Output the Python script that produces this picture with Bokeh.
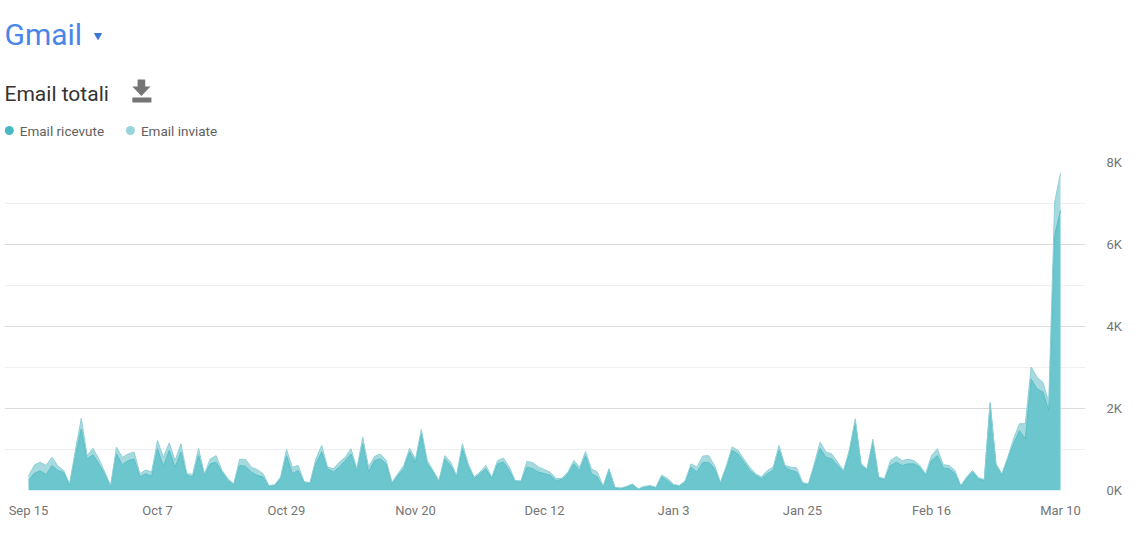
import pandas as pd
from bokeh.plotting import figure
from bokeh.layouts import column
from bokeh.models import Range1d, FixedTicker, ColumnDataSource
from bokeh.core.properties import value
from bokeh.embed import file_html
from bokeh.resources import INLINE

# ---------------- data (daily, Sep 15 -> Mar 10) ----------------
series_names = ["Email ricevute", "Email inviate"]
received = [250, 420, 480, 390, 610, 490, 440, 140, 850, 1500,
            770, 870, 650, 400, 100, 890, 630, 730, 770, 330,
            410, 350, 1020, 590, 980, 570, 940, 370, 330, 850,
            370, 650, 690, 450, 240, 140, 610, 590, 450, 370,
            330, 110, 120, 290, 850, 410, 490, 190, 160, 650,
            940, 530, 450, 570, 730, 890, 490, 1140, 450, 730,
            770, 650, 160, 370, 530, 940, 690, 1380, 650, 450,
            220, 770, 610, 330, 1020, 570, 290, 410, 530, 290,
            650, 690, 490, 220, 200, 570, 530, 450, 410, 370,
            240, 270, 410, 650, 490, 850, 410, 330, 80, 510,
            65, 40, 80, 140, 30, 80, 100, 60, 330, 240,
            120, 100, 200, 570, 450, 680, 690, 530, 170, 520,
            980, 890, 690, 490, 370, 290, 410, 490, 980, 570,
            490, 450, 160, 140, 570, 1030, 810, 770, 610, 450,
            900, 1650, 610, 490, 1180, 290, 270, 610, 690, 610,
            650, 650, 570, 370, 730, 850, 550, 530, 410, 100,
            290, 450, 280, 240, 2110, 610, 370, 750, 1140, 1460,
            1260, 2720, 2480, 2400, 1950, 6220, 6830]
sent = [100, 200, 210, 220, 200, 110, 50, 20, 130, 260,
        80, 160, 120, 50, 20, 170, 180, 160, 170, 80,
        90, 100, 200, 220, 180, 160, 200, 40, 60, 170,
        40, 120, 160, 40, 50, 20, 150, 170, 120, 140,
        80, 10, 20, 40, 150, 160, 120, 30, 30, 120,
        160, 40, 80, 120, 80, 130, 40, 160, 120, 100,
        120, 80, 40, 40, 80, 90, 80, 110, 80, 40,
        20, 80, 80, 40, 120, 80, 40, 40, 80, 40,
        80, 100, 80, 20, 40, 140, 150, 120, 100, 70,
        50, 30, 40, 80, 80, 100, 120, 120, 30, 20,
        15, 20, 20, 20, 10, 20, 20, 20, 50, 50,
        30, 20, 40, 80, 120, 160, 160, 80, 30, 80,
        80, 90, 80, 80, 40, 40, 80, 80, 120, 40,
        80, 100, 40, 20, 80, 150, 130, 120, 80, 40,
        100, 100, 40, 40, 70, 40, 20, 120, 140, 120,
        110, 80, 40, 40, 120, 170, 80, 80, 80, 20,
        40, 40, 30, 30, 40, 40, 40, 60, 120, 170,
        370, 290, 280, 240, 200, 810, 910]
x_tick_labels = ["Sep 15", "Oct 7", "Oct 29", "Nov 20", "Dec 12",
                 "Jan 3", "Jan 25", "Feb 16", "Mar 10"]
tick_step_days = 22
y_ticks = [0, 2000, 4000, 6000, 8000]
y_tick_labels = ["0K", "2K", "4K", "6K", "8K"]
y_minor = [1000, 3000, 5000, 7000]

days = list(range(len(received)))
x_ticks = [i * tick_step_days for i in range(len(x_tick_labels))]
src = ColumnDataSource(dict(day=days, received=received, sent=sent))

FONT = value("Roboto")
C_REC = "#6cc6cd"
C_SENT = "#a6dadf"
W = 1133

# ---------------- header ----------------
h = figure(width=W, height=153, x_range=Range1d(0, W), y_range=Range1d(153, 0),
           output_backend="svg", toolbar_location=None, min_border=0)
h.axis.visible = False
h.grid.visible = False
h.outline_line_color = None

h.text(x=[0], y=[34], text=["Gmail"], text_font=FONT, text_font_size="30px",
       text_color="#4a86e8", text_baseline="middle")
h.scatter(x=[98], y=[35], marker="inverted_triangle", size=7,
          fill_color="#3c78d8", line_color="#3c78d8")
h.text(x=[0], y=[93], text=["Email totali"], text_font=FONT, text_font_size="21px",
       text_color="#333333", text_baseline="middle")
# download icon
h.quad(left=[139.5], right=[147.5], top=[79], bottom=[87], fill_color="#757575", line_color=None)
h.patch(x=[134, 153, 143.5], y=[86, 86, 95.5], fill_color="#757575", line_color=None)
h.quad(left=[134], right=[154], top=[97], bottom=[102], fill_color="#757575", line_color=None)
# legend
h.scatter(x=[5, 132], y=[130, 130], marker="circle", size=9,
          fill_color=["#48b8c2", "#98d4db"], line_color=None)
h.text(x=[16, 143], y=[130, 130], text=series_names, text_font=FONT,
       text_font_size="13.5px", text_color="#616161", text_baseline="middle")

# ---------------- chart ----------------
px_per_day = 129 / 22.0
frame_left = 4
frame_right = 1085
x_start = -(28 - frame_left) / px_per_day
x_end = x_start + (frame_right - frame_left) / px_per_day

p = figure(width=W, height=376, x_range=Range1d(x_start, x_end), y_range=Range1d(0, 8000),
           output_backend="svg", toolbar_location=None, y_axis_location="right",
           min_border_left=frame_left, min_border_right=W - frame_right,
           min_border_top=9, min_border_bottom=39)
p.outline_line_color = None

p.varea_stack(["received", "sent"], x="day", source=src, color=[C_REC, C_SENT])
p.vline_stack(["received", "sent"], x="day", source=src,
              color=["#55bcc5", "#8fd0d7"], line_width=1)

yt = FixedTicker(ticks=y_ticks, minor_ticks=y_minor)
p.yaxis.ticker = yt
p.yaxis.major_label_overrides = dict(zip(y_ticks, y_tick_labels))
p.ygrid.ticker = yt
p.ygrid.grid_line_color = "#dcdcdc"
p.ygrid.minor_grid_line_color = "#efefef"
p.xgrid.grid_line_color = None

p.xaxis.ticker = FixedTicker(ticks=x_ticks)
p.xaxis.major_label_overrides = dict(zip(x_ticks, x_tick_labels))

for ax in (p.xaxis, p.yaxis):
    ax.axis_line_color = None
    ax.major_tick_line_color = None
    ax.minor_tick_line_color = None
    ax.major_label_text_font = "Roboto"
    ax.major_label_text_font_size = "13px"
    ax.major_label_text_color = "#757575"
p.xaxis.major_label_standoff = 6
p.yaxis.major_label_standoff = 15

layout = column(h, p, spacing=0)
open("out.html", "w").write(file_html(layout, INLINE))
